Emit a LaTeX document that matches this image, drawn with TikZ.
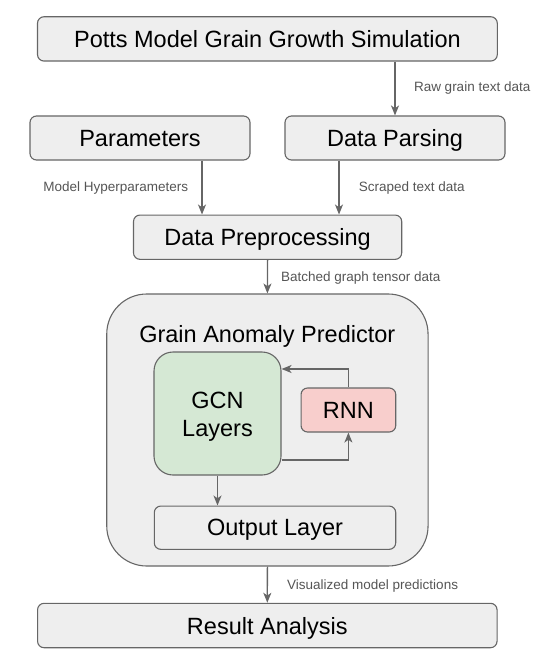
\documentclass[tikz,border=0pt]{standalone}
\usepackage{fontspec}
\setmainfont{Liberation Sans}
\usetikzlibrary{arrows.meta}
\definecolor{boxfill}{HTML}{EEEEEE}
\definecolor{boxline}{HTML}{666666}
\definecolor{gcnfill}{HTML}{D5E8D4}
\definecolor{rnnfill}{HTML}{F8CECC}
\definecolor{lbl}{HTML}{555555}
\begin{document}
\begin{tikzpicture}[x=1pt,y=-1pt,
  box/.style={draw=boxline, fill=boxfill, line width=1.1pt, rounded corners=6.5pt,
    inner sep=0pt, text depth=0pt, font=\fontsize{23.5}{28.4}\selectfont},
  bigtext/.style={inner sep=0pt, font=\fontsize{23.5}{28.4}\selectfont},
  arr/.style={draw=boxline, line width=1.3pt, -{Stealth[length=10pt,width=8pt,inset=2.8pt]}},
  lab/.style={font=\fontsize{13.5}{16}\selectfont, text=lbl, inner sep=0pt}]
\useasboundingbox (0,0) rectangle (540,666);

% boxes
\node[box, minimum width=459.8pt, minimum height=44.3pt] (potts) at (267.4,38.9) {Potts Model Grain Growth Simulation};
\node[box, minimum width=220pt, minimum height=44pt] (param) at (140,138) {Parameters};
\node[box, minimum width=220pt, minimum height=44pt] (parse) at (395,138) {Data Parsing};
\node[box, minimum width=268.2pt, minimum height=44.3pt] (prep) at (267.6,237.2) {Data Preprocessing};
\node[box, rounded corners=40pt, minimum width=321.3pt, minimum height=272pt] (pred) at (267.4,430) {};
\node[bigtext, anchor=base] (predtitle) at (267.3,342.7) {Grain Anomaly Predictor};
\node[box, fill=gcnfill, rounded corners=19pt, minimum width=127pt, minimum height=123pt] (gcn) at (217.5,413.5) {};
\node[bigtext, anchor=base] (gcnl1) at (217.5,408.3) {GCN};
\node[bigtext, anchor=base] (gcnl2) at (217.5,436.7) {Layers};
\node[box, fill=rnnfill, minimum width=94.7pt, minimum height=44pt] (rnn) at (348.4,410) {RNN};
\node[box, minimum width=241.4pt, minimum height=43.3pt] (out) at (275,527.7) {Output Layer};
\node[box, minimum width=459.5pt, minimum height=44.4pt] (result) at (267.3,625.5) {Result Analysis};

% helper coordinates
\coordinate (xa) at (202,0);
\coordinate (xb) at (339,0);
\coordinate (yfb) at (0,369);
\coordinate (yff) at (0,460);

% connectors
\draw[arr] (potts.south -| parse) -- (parse.north);
\draw[arr] (param.south -| xa) -- (prep.north -| xa);
\draw[arr] (parse.south -| xb) -- (prep.north -| xb);
\draw[arr] (prep.south) -- (pred.north);
\draw[arr] (pred.south) -- (result.north);
\draw[arr] (gcn.south) -- (gcn.south |- out.north);
\draw[arr] (rnn.north) |- (gcn.east |- yfb);
\draw[arr] (gcn.east |- yff) -| (rnn.south);

% labels
\node[lab, anchor=base west] (l1) at (413.8,92) {Raw grain text data};
\node[lab, anchor=base east] (l2) at (188.3,191.5) {Model Hyperparameters};
\node[lab, anchor=base west] (l3) at (358.6,191.5) {Scraped text data};
\node[lab, anchor=base west] (l4) at (281,281.5) {Batched graph tensor data};
\node[lab, anchor=base west] (l5) at (287,589) {Visualized model predictions};
\end{tikzpicture}
\end{document}
